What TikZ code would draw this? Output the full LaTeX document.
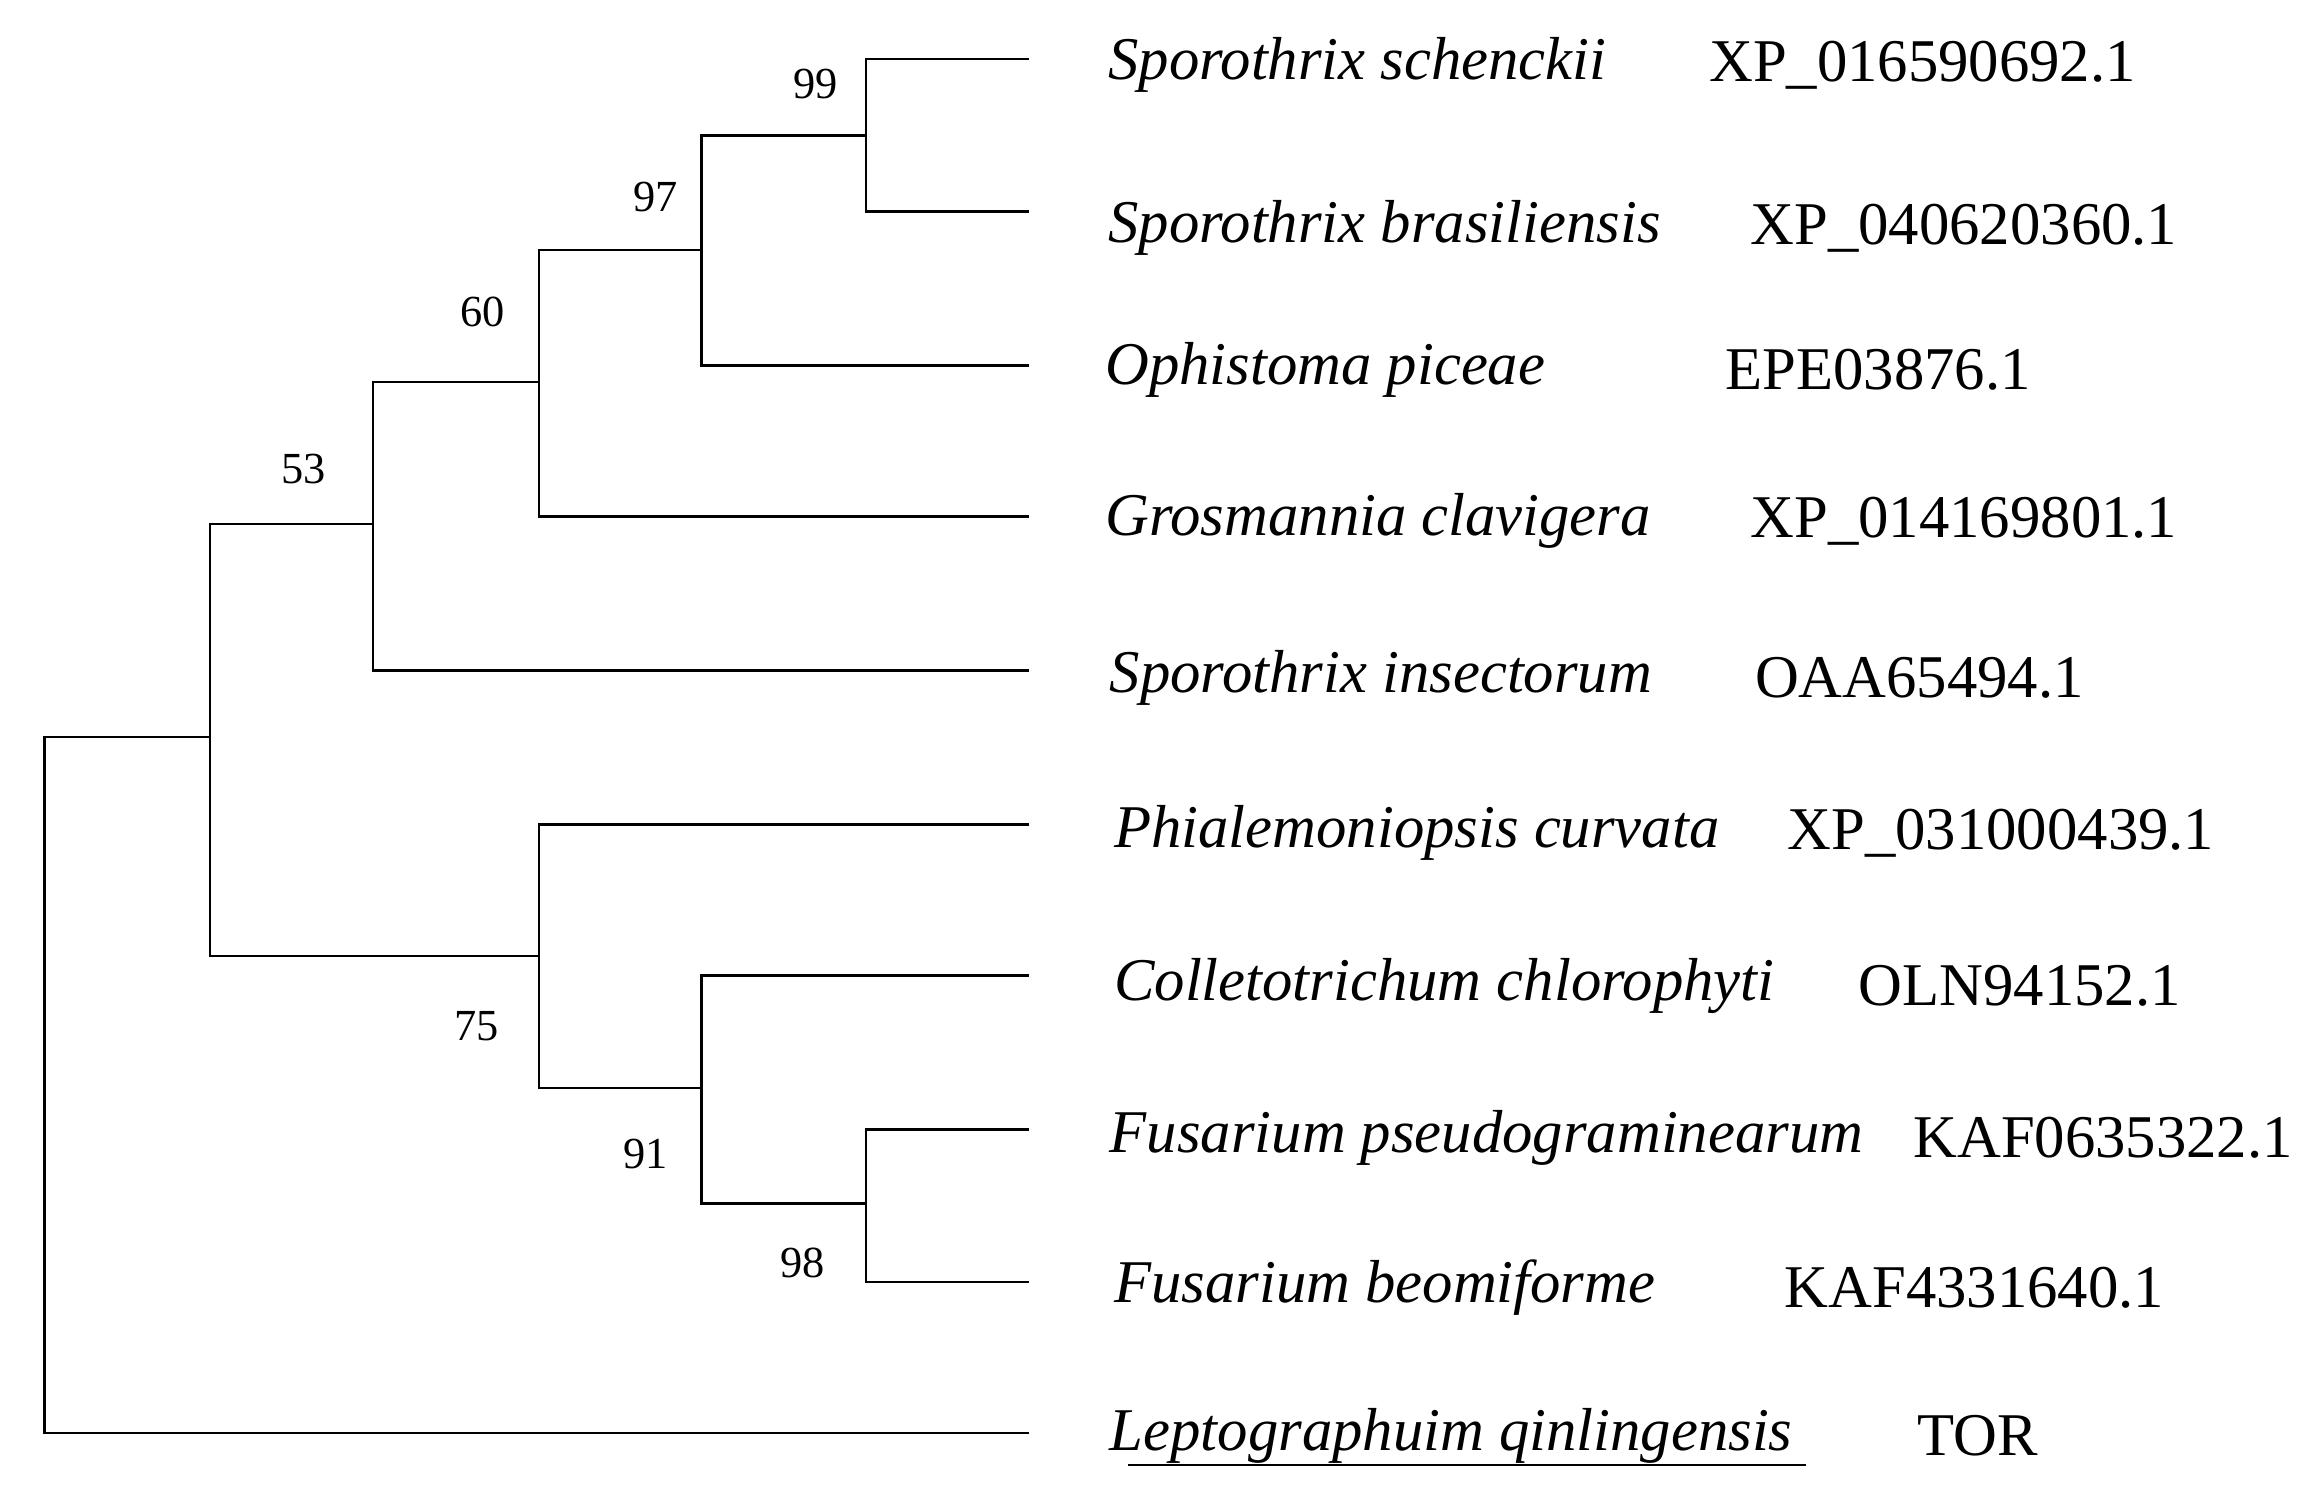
\documentclass[tikz,border=0pt]{standalone}
\usepackage{fontspec}
\setmainfont{Liberation Serif}
\begin{document}
\begin{tikzpicture}[x=1pt,y=-1pt,line width=1.6pt,
  sp/.style={anchor=west,font=\fontsize{41}{44}\selectfont\itshape,inner sep=0pt},
  acc/.style={anchor=west,font=\fontsize{41}{44}\selectfont,inner sep=0pt},
  bs/.style={font=\fontsize{30}{32}\selectfont,inner sep=0pt}]
\useasboundingbox (0,0) rectangle (1560,1016);
% leaves
\foreach \n/\y in {1/40,2/143,3/247,4/349,5/453,6/557,7/659,8/763,9/866,10/968}
  \coordinate (L\n) at (695,\y);
% internal nodes
\coordinate (a) at (585,91.5);
\coordinate (b) at (474,169);
\coordinate (c) at (364,258);
\coordinate (d) at (252,354);
\coordinate (e) at (142,498);
\coordinate (g) at (585,813);
\coordinate (h) at (474,735);
\coordinate (f) at (364,646);
\coordinate (r) at (30,733);
\draw (L1) -| (a) |- (L2);
\draw (L3) -| (b) |- (a);
\draw (L4) -| (c) |- (b);
\draw (L5) -| (d) |- (c);
\draw (L8) -| (g) |- (L9);
\draw (L7) -| (h) |- (g);
\draw (L6) -| (f) |- (h);
\draw (f) -| (e) |- (d);
\draw (L10) -| (r) |- (e);
% bootstrap
\node[bs] (b99) at (551,57) {99};
\node[bs] (b97) at (443,133) {97};
\node[bs] (b60) at (326,211) {60};
\node[bs] (b53) at (205,317) {53};
\node[bs] (b75) at (322,693) {75};
\node[bs] (b91) at (436,780) {91};
\node[bs] (b98) at (542,853) {98};
% labels
\node[sp] (s1) at (748,44) {Sporothrix schenckii};
\node[acc] (a1) at (1154,44) {XP\_016590692.1};
\node[sp] (s2) at (748,154) {Sporothrix brasiliensis};
\node[acc] (a2) at (1182,154) {XP\_040620360.1};
\node[sp] (s3) at (746,250) {Ophistoma piceae};
\node[acc] (a3) at (1165,250) {EPE03876.1};
\node[sp] (s4) at (746,352) {Grosmannia clavigera};
\node[acc] (a4) at (1182,352) {XP\_014169801.1};
\node[sp] (s5) at (749,458) {Sporothrix insectorum};
\node[acc] (a5) at (1185,458) {OAA65494.1};
\node[sp] (s6) at (752,563) {Phialemoniopsis curvata};
\node[acc] (a6) at (1207,563) {XP\_031000439.1};
\node[sp] (s7) at (752,666) {Colletotrichum chlorophyti};
\node[acc] (a7) at (1255,666) {OLN94152.1};
\node[sp] (s8) at (749,769) {Fusarium pseudograminearum};
\node[acc] (a8) at (1292,769) {KAF0635322.1};
\node[sp] (s9) at (752,870) {Fusarium beomiforme};
\node[acc] (a9) at (1205,870) {KAF4331640.1};
\node[sp] (s10) at (749,970) {Leptographuim qinlingensis};
\node[acc] (a10) at (1295,970) {TOR};
\draw[line width=1.4pt] (762,990) -- (1220,990);
\end{tikzpicture}
\end{document}
